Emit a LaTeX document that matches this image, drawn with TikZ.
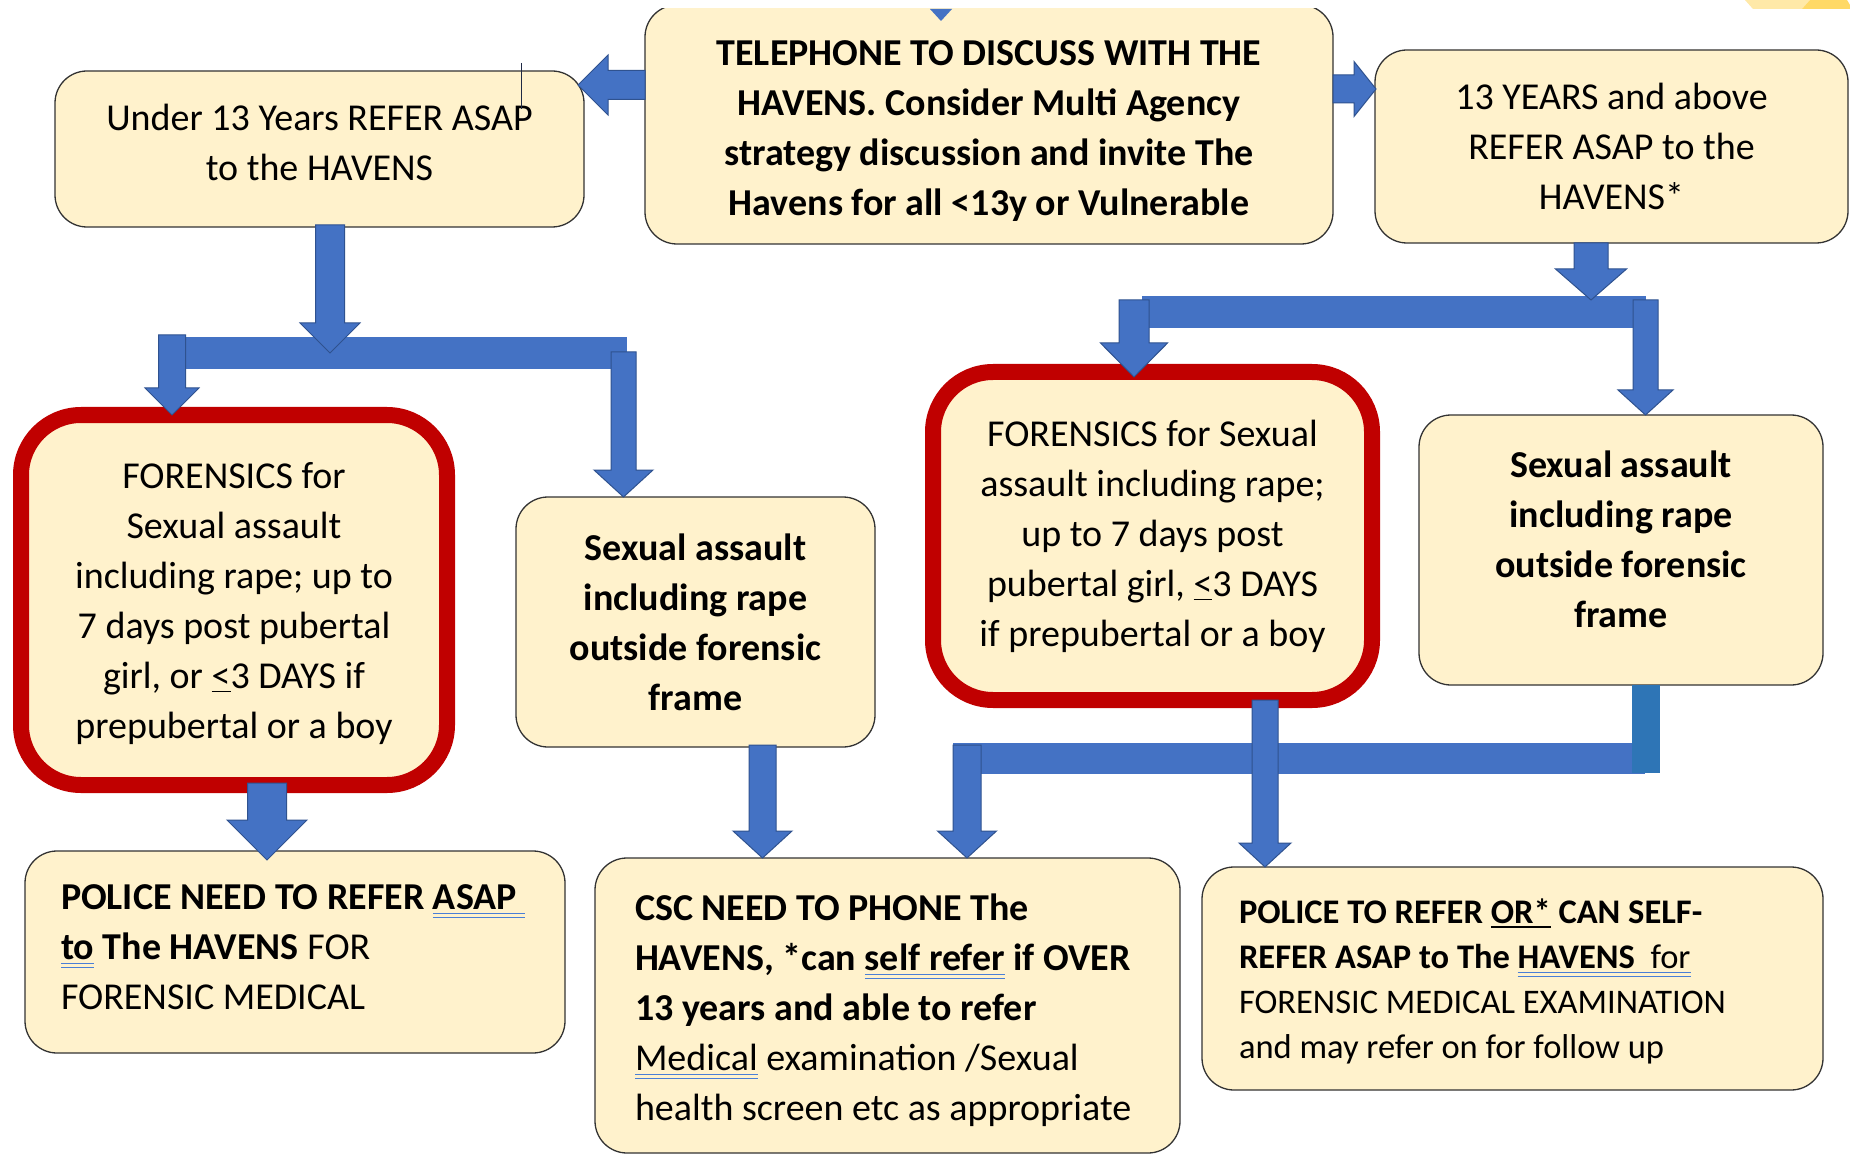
\documentclass[tikz,border=0pt]{standalone}
\usepackage{fontspec}
\setmainfont{Carlito}
\definecolor{boxfill}{HTML}{FFF2CC}
\definecolor{redb}{HTML}{C00000}
\definecolor{arrfill}{HTML}{4472C4}
\definecolor{arrline}{HTML}{2F528F}
\definecolor{riser}{HTML}{2E75B6}
\definecolor{ulblue}{HTML}{4A7FD6}
\definecolor{ylight}{HTML}{FFE9A8}
\definecolor{ydark}{HTML}{FFD966}
\definecolor{cursorc}{HTML}{1F2A44}
\newsavebox{\ulbox}
\newcommand{\bluu}[1]{\leavevmode\sbox{\ulbox}{#1}\rlap{\color{ulblue}\rule[-4.5pt]{\wd\ulbox}{1.3pt}}\rlap{\color{ulblue}\rule[-8.5pt]{\wd\ulbox}{1.3pt}}\usebox{\ulbox}}
\newcommand{\blku}[1]{\leavevmode\sbox{\ulbox}{#1}\rlap{\rule[-4pt]{\wd\ulbox}{1.3pt}}\usebox{\ulbox}}
\newcommand{\barrowdn}[6]{%
  \filldraw[blockarrow] ({#1-#5},#2) -- ({#1+#5},#2) -- ({#1+#5},#3) -- ({#1+#6},#3) -- (#1,#4) -- ({#1-#6},#3) -- ({#1-#5},#3) -- cycle;}
\newcommand{\barrowh}[6]{%
  \filldraw[blockarrow] (#2,{#1-#5}) -- (#3,{#1-#5}) -- (#3,{#1-#6}) -- (#4,#1) -- (#3,{#1+#6}) -- (#3,{#1+#5}) -- (#2,{#1+#5}) -- cycle;}
\tikzset{
  box/.style={draw=black!80, line width=1.3pt, fill=boxfill, rounded corners=32pt,
    inner sep=0pt, align=center, font=\fontsize{38}{50}\selectfont},
  redbox/.style={draw=redb, line width=16pt, fill=boxfill, rounded corners=60pt,
    inner sep=0pt, align=center, font=\fontsize{38}{50}\selectfont},
  blockarrow/.style={fill=arrfill, draw=arrline, line width=1pt},
  barfill/.style={fill=arrfill},
}
\begin{document}
\begin{tikzpicture}[x=1pt,y=-1pt]
\useasboundingbox[fill=white] (0,0) rectangle (1850,1155);
% top-right partial shapes
\fill[ylight] (1745,0) -- (1810,0) -- (1802,9) -- (1753,9) -- cycle;
\fill[ydark] (1810,0) -- (1847,0) -- (1850,5) -- (1850,9) -- (1802,9) -- cycle;
% boxes
\begin{scope}
  \clip (0,9) rectangle (1850,1155);
  \node[box, font=\fontsize{38}{50}\selectfont\bfseries, minimum width=688pt, minimum height=239pt] (tel) at (989,124.5)
    {\rule{0pt}{37pt}TELEPHONE TO DISCUSS WITH THE\\ HAVENS. Consider Multi Agency\\ strategy discussion and invite The\\ Havens for all <13y or Vulnerable};
\end{scope}
\fill[arrfill] (930,9) -- (952,9) -- (941,21) -- cycle;
\node[box, minimum width=529pt, minimum height=156pt] (u13) at (319.5,149)
  {Under 13 Years REFER ASAP\\ to the HAVENS\rule[-14pt]{0pt}{1pt}};
\node[box, minimum width=473pt, minimum height=193pt] (o13) at (1611.5,146.5)
  {13 YEARS and above\\ REFER ASAP to the\\ HAVENS*};
\node[redbox, minimum width=426pt, minimum height=370pt] (rl) at (234,600)
  {\rule{0pt}{33pt}FORENSICS for\\ Sexual assault\\ including rape; up to\\ 7 days post pubertal\\ girl, or \blku{<}3 DAYS if\\ prepubertal or a boy};
\node[box, font=\fontsize{38}{50}\selectfont\bfseries, minimum width=359pt, minimum height=250pt] (sl) at (695.5,622)
  {Sexual assault\\ including rape\\ outside forensic\\ frame};
\node[redbox, minimum width=439pt, minimum height=328pt] (rr) at (1152.5,536)
  {FORENSICS for Sexual\\ assault including rape;\\ up to 7 days post\\ pubertal girl, \blku{<}3 DAYS\\ if prepubertal or a boy};
\node[box, font=\fontsize{38}{50}\selectfont\bfseries, minimum width=404pt, minimum height=270pt] (sr) at (1621,550)
  {Sexual assault\\ including rape\\ outside forensic\\ frame\rule[-22pt]{0pt}{1pt}};
\node[box, minimum width=540pt, minimum height=202pt, text width=468pt, inner xsep=36pt, align=flush left] (pn) at (295,952)
  {\mbox{\textbf{POLICE NEED TO REFER \bluu{ASAP\ }}}\\ \mbox{\textbf{\bluu{to} The HAVENS} FOR}\\ \mbox{FORENSIC MEDICAL\rule[-10pt]{0pt}{1pt}}};
\node[box, minimum width=585pt, minimum height=295pt, text width=505pt, inner xsep=40pt, align=flush left] (csc) at (887.5,1005.5)
  {\mbox{\rule{0pt}{37pt}\textbf{CSC NEED TO PHONE The}}\\ \mbox{\textbf{HAVENS, *can \bluu{self refer} if OVER}}\\ \mbox{\textbf{13 years and able to refer}}\\ \mbox{\bluu{Medical} examination /Sexual}\\ \mbox{health screen etc as appropriate}};
\node[box, font=\fontsize{34.5}{45}\selectfont, minimum width=621pt, minimum height=223pt, text width=547pt, inner xsep=37pt, align=flush left] (pr) at (1512.5,978.5)
  {\mbox{\rule{0pt}{31pt}\textbf{POLICE TO REFER \blku{OR*} CAN SELF-}}\\ \mbox{\textbf{REFER ASAP to The} \bluu{\textbf{HAVENS}\ \ for}}\\ \mbox{FORENSIC MEDICAL EXAMINATION}\\ \mbox{and may refer on for follow up}};
% cursor mark
\draw[cursorc, line width=1pt] (521,63) -- (521,109);
% bars
\fill[barfill] (159,337) rectangle (627,369);
\fill[barfill] (1142,296) rectangle (1646,328);
\fill[barfill] (953,743) rectangle (1645,774);
\fill[riser] (1632,685) rectangle (1660,773);
% block arrows
\barrowh{85}{645}{608}{578}{14.5}{30}
\barrowh{89}{1333}{1354}{1376}{14}{27.5}
\barrowdn{330}{225}{323}{353}{14.5}{30}
\barrowdn{172}{335}{388}{415}{13.5}{27}
\barrowdn{623.5}{352}{470}{497}{12.5}{29.5}
\barrowdn{267}{783}{820}{860}{19.5}{40}
\barrowdn{762.5}{745}{831}{858}{13.5}{29.5}
\barrowdn{1591}{243}{269}{300}{17}{35.5}
\barrowdn{1134}{300}{343}{377}{15}{33.5}
\barrowdn{1645.5}{300}{390}{415}{12.5}{27.5}
\barrowdn{967}{745}{831}{858}{14}{29.5}
\barrowdn{1265}{700}{843}{867}{13}{26}
\end{tikzpicture}
\end{document}
